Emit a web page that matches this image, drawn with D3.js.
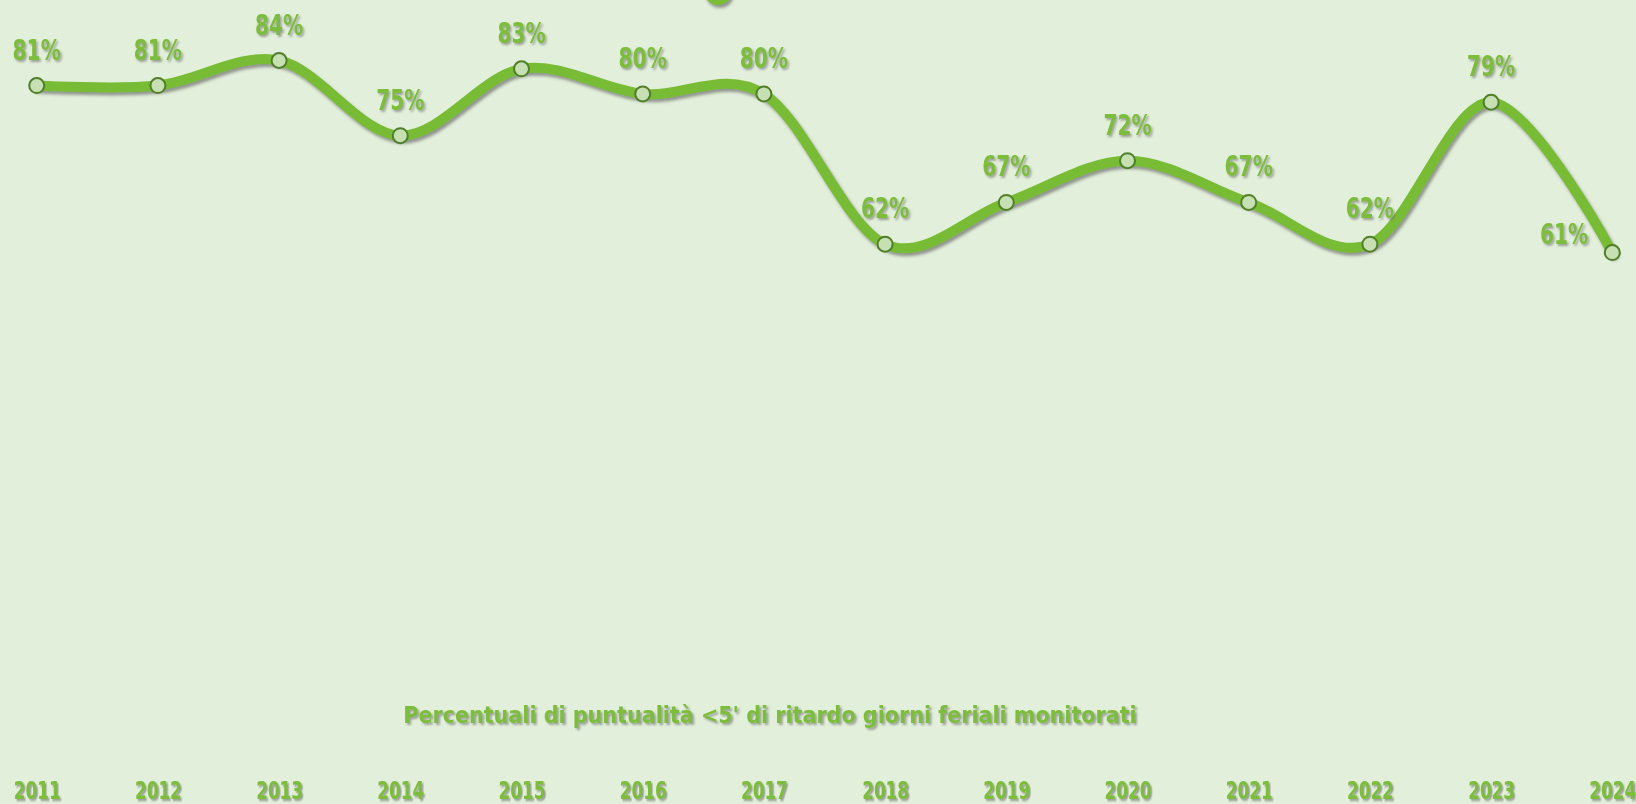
<!DOCTYPE html>
<html>
<head>
<meta charset="utf-8">
<script src="https://cdn.jsdelivr.net/npm/d3@7"></script>
<style>
  html, body { margin: 0; padding: 0; background: #e2efda; overflow: hidden; }
  svg { display: block; }
  text { font-family: "DejaVu Sans Condensed", "Liberation Sans Narrow", "Roboto", sans-serif; font-weight: bold; fill: #7cbd3a; }
</style>
</head>
<body>
<script>
const years = ['2011', '2012', '2013', '2014', '2015', '2016', '2017', '2018', '2019', '2020', '2021', '2022', '2023', '2024'];
const puntualita = [81, 81, 84, 75, 83, 80, 80, 62, 67, 72, 67, 62, 79, 61];
const title = "Percentuali di puntualità <5' di ritardo giorni feriali monitorati";

const width = 1636;
const height = 804;

const x = d3.scalePoint()
  .domain(years)
  .range([36.7, 1612.3]);

// 0% sits near the bottom, the top of the plot is cut off
const y = d3.scaleLinear()
  .domain([0, 100])
  .range([761.9, -73.1]);

const svg = d3.select('body').append('svg')
  .attr('width', width)
  .attr('height', height);

const defs = svg.append('defs');
const shadow = defs.append('filter')
  .attr('id', 'shadow')
  .attr('x', '-20%').attr('y', '-20%')
  .attr('width', '140%').attr('height', '140%');
shadow.append('feDropShadow')
  .attr('dx', 2).attr('dy', 3)
  .attr('stdDeviation', 1.6)
  .attr('flood-color', '#5a5a5a')
  .attr('flood-opacity', 0.6);

const textShadow = defs.append('filter')
  .attr('id', 'tshadow')
  .attr('x', '-20%').attr('y', '-20%')
  .attr('width', '140%').attr('height', '140%');
textShadow.append('feDropShadow')
  .attr('dx', 2).attr('dy', 2)
  .attr('stdDeviation', 1)
  .attr('flood-color', '#6b6b6b')
  .attr('flood-opacity', 0.6);

// partial marker peeking in at the top edge
svg.append('circle')
  .attr('cx', 718)
  .attr('cy', -9)
  .attr('r', 14)
  .attr('fill', '#7abd35')
  .attr('filter', 'url(#shadow)');

const data = years.map((d, i) => ({ year: d, value: puntualita[i] }));

const line = d3.line()
  .x(d => x(d.year))
  .y(d => y(d.value))
  .curve(d3.curveCatmullRom.alpha(0));

svg.append('path')
  .datum(data)
  .attr('d', line)
  .attr('fill', 'none')
  .attr('stroke', '#78bc34')
  .attr('stroke-width', 10)
  .attr('stroke-linecap', 'round')
  .attr('filter', 'url(#shadow)');

svg.selectAll('.dot')
  .data(data)
  .enter().append('circle')
  .attr('class', 'dot')
  .attr('cx', d => x(d.year))
  .attr('cy', d => y(d.value))
  .attr('r', 7.5)
  .attr('fill', '#c6e0b4')
  .attr('stroke', '#4f7f27')
  .attr('stroke-width', 2);

// labels squeezed a bit horizontally to look like the narrow original font
const last = years[years.length - 1];
svg.selectAll('.label')
  .data(data)
  .enter().append('text')
  .attr('class', 'label')
  .attr('transform', (d) => {
    const lx = d.year === last ? x(d.year) - 24 : x(d.year);
    const ly = d.year === last ? y(d.value) - 9 : y(d.value) - 26;
    return `translate(${lx},${ly}) scale(0.8,1)`;
  })
  .attr('text-anchor', d => (d.year === last ? 'end' : 'middle'))
  .attr('font-size', 28)
  .attr('filter', 'url(#tshadow)')
  .text(d => `${d.value}%`);

const xAxis = svg.append('g')
  .attr('transform', 'translate(0,799)')
  .call(d3.axisBottom(x).tickSize(0).tickPadding(0));
xAxis.select('.domain').remove();
xAxis.selectAll('text')
  .attr('dy', 0)
  .attr('y', 0)
  .attr('transform', 'scale(0.78,1)')
  .attr('font-size', 24)
  .attr('filter', 'url(#tshadow)')
  .style('fill', '#7cbd3a')
  .style('font-family', '"DejaVu Sans Condensed", "Liberation Sans Narrow", "Roboto", sans-serif');

svg.append('text')
  .attr('x', 770)
  .attr('y', 723)
  .attr('text-anchor', 'middle')
  .attr('font-size', 23)
  .attr('filter', 'url(#tshadow)')
  .text(title);
</script>
</body>
</html>
